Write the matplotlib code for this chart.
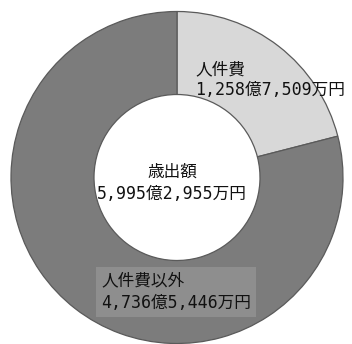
import matplotlib.pyplot as plt

plt.rcParams['font.family'] = ['Noto Sans CJK JP', 'DejaVu Sans']
mono = ['DejaVu Sans Mono', 'Noto Sans CJK JP']

labels = ["人件費", "人件費以外"]
values = [1258.7509, 4736.5446]  # 億円
amounts = ["1,258億7,509万円", "4,736億5,446万円"]
total_label = "歳出額\n5,995億2,955万円"
colors = ["#d8d8d8", "#7c7c7c"]

fig = plt.figure(figsize=(3.52, 3.44), dpi=100)
ax = fig.add_axes([0, 0, 1, 1])

ax.pie(values, colors=colors, startangle=90, counterclock=False,
       center=(177, 166.5), radius=166,
       wedgeprops=dict(width=83, edgecolor="#5a5a5a", linewidth=0.9))

# pie resets the limits, so set them afterwards
ax.set_xlim(0, 352)
ax.set_ylim(0, 344)
ax.set_aspect("equal")
ax.axis("off")

ax.text(195, 264, labels[0] + "\n" + amounts[0], fontsize=12, family=mono,
        ha="left", va="center", linespacing=1.2, color="#111111")
ax.text(172, 161, total_label, fontsize=12, family=mono, ha="center",
        va="center", linespacing=1.3, color="#111111")
ax.text(101, 52, labels[1] + "\n" + amounts[1], fontsize=12, family=mono,
        ha="left", va="center", linespacing=1.35, color="#111111",
        bbox=dict(boxstyle="square,pad=0.3", facecolor="#8e8e8e",
                  edgecolor="none"))

fig.savefig("out.png", dpi=100)
